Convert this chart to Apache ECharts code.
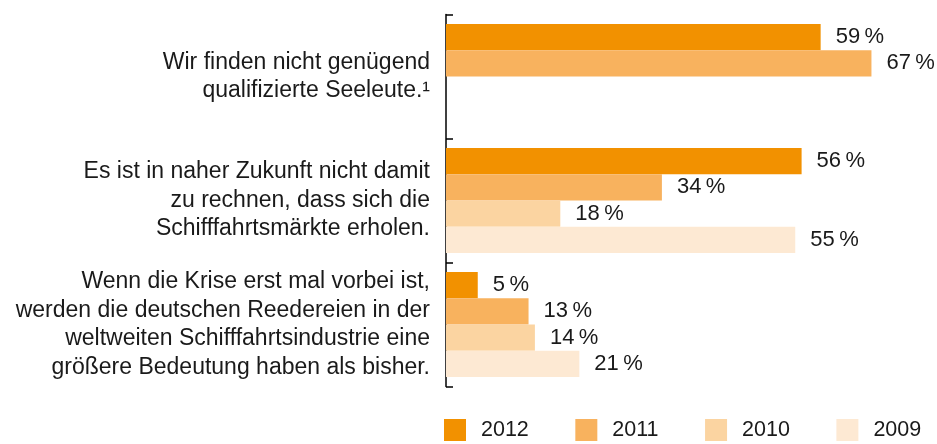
<!DOCTYPE html>
<html>
<head>
<meta charset="utf-8">
<script src="https://cdn.jsdelivr.net/npm/echarts@6/dist/echarts.min.js"></script>
<style>
  html, body { margin: 0; padding: 0; background: #fff; }
  #chart { width: 937px; height: 444px; }
</style>
</head>
<body>
<div id="chart"></div>
<script>
// Survey statements (top to bottom)
const categories = [
  'Wir finden nicht genügend\nqualifizierte Seeleute.\u00B9',
  'Es ist in naher Zukunft nicht damit\nzu rechnen, dass sich die\nSchifffahrtsmärkte erholen.',
  'Wenn die Krise erst mal vorbei ist,\nwerden die deutschen Reedereien in der\nweltweiten Schifffahrtsindustrie eine\ngrößere Bedeutung haben als bisher.'
];

// Share of agreement in percent, per survey year
const years = ['2012', '2011', '2010', '2009'];
const values2012 = [59, 56, 5];
const values2011 = [67, 34, 13];
const values2010 = [null, 18, 14];
const values2009 = [null, 55, 21];

const colors = ['#F29100', '#F8B25E', '#FBD4A1', '#FDE9D3'];
const FONT = "'Liberation Sans', Arial, Helvetica, sans-serif";
const TEXT = '#1a1a1a';

const seriesValues = [values2012, values2011, values2010, values2009];

const chart = echarts.init(document.getElementById('chart'), null, { renderer: 'canvas' });

chart.setOption({
  animation: false,
  textStyle: { fontFamily: FONT },
  grid: { left: 446, top: 14.5, width: 444.5, bottom: 57.5, containLabel: false },
  legend: {
    data: years,
    left: 444,
    top: 419,
    width: 493,
    padding: 0,
    itemWidth: 22,
    itemHeight: 22,
    itemGap: 46.5,
    icon: 'rect',
    textStyle: { fontSize: 21.5, color: TEXT, fontFamily: FONT, padding: [0, 0, 0, 10] }
  },
  xAxis: {
    type: 'value',
    min: 0,
    max: 70,
    show: false
  },
  yAxis: {
    type: 'category',
    inverse: true,
    data: categories,
    axisLine: { show: true, lineStyle: { color: '#000', width: 1.5 } },
    axisTick: { show: true, inside: true, length: 7, lineStyle: { color: '#000', width: 1.5 } },
    axisLabel: {
      margin: 16,
      fontSize: 23,
      lineHeight: 28.5,
      padding: [5, 0, 0, 0],
      color: TEXT,
      fontFamily: FONT,
      align: 'right'
    },
    splitLine: { show: false }
  },
  series: years.map((y, i) => ({
    name: y,
    type: 'bar',
    data: seriesValues[i],
    barGap: '0%',
    barCategoryGap: '15.3%',
    itemStyle: { color: colors[i] },
    label: {
      show: true,
      position: 'right',
      distance: 15,
      fontSize: 22,
      color: TEXT,
      fontFamily: FONT,
      formatter: p => p.value + '\u2009%'
    }
  }))
});
</script>
</body>
</html>
